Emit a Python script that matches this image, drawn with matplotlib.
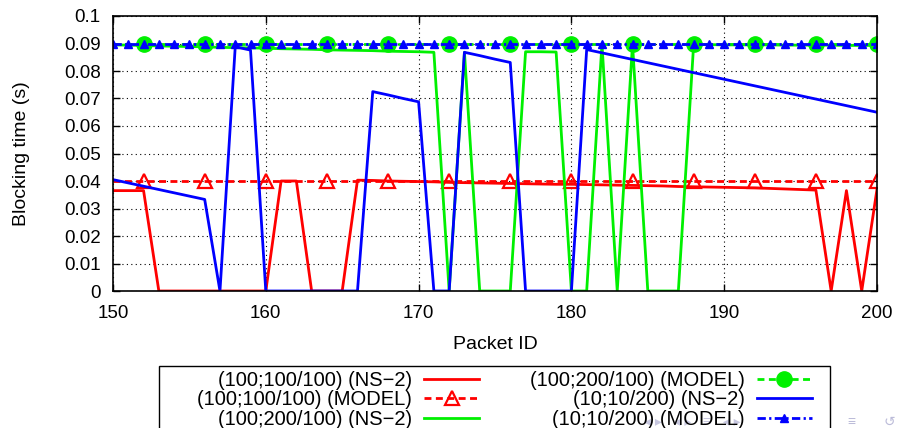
import numpy as np
from matplotlib import pyplot as plt
from matplotlib.patches import Rectangle

plt.rcParams['font.family'] = ['Liberation Sans', 'DejaVu Sans']

# packet ids 150..200
packets = list(range(150, 201))

# (100;100/100) NS-2
red_ns = [0.0365, 0.0365, 0.0365, 0, 0, 0, 0, 0, 0, 0,
          0, 0.0400, 0.0400, 0, 0, 0, 0.0403, 0.0402, 0.0400, 0.0399,
          0.0398, 0.0397, 0.0395, 0.0394, 0.0393, 0.0392, 0.0391, 0.0390, 0.0389, 0.0388,
          0.0388, 0.0387, 0.0386, 0.0385, 0.0384, 0.0383, 0.0382, 0.0380, 0.0379, 0.0378,
          0.0377, 0.0376, 0.0375, 0.0373, 0.0371, 0.0369, 0.0367, 0, 0.0365, 0,
          0.0370]
red_model = [0.04] * 51

# (100;200/100) NS-2
green_ns = [0.0895, 0.0894, 0.0893, 0.0891, 0.0890, 0.0889, 0.0888, 0.0886, 0.0885, 0.0884,
            0.0883, 0.0881, 0.0880, 0.0879, 0.0877, 0.0876, 0.0875, 0.0874, 0.0872, 0.0871,
            0.0870, 0.0868, 0, 0.0868, 0, 0, 0, 0.0870, 0.0870, 0.0869,
            0, 0, 0.0898, 0, 0.0897, 0, 0, 0, 0.0896, 0.0896,
            0.0895, 0.0895, 0.0895, 0.0895, 0.0894, 0.0894, 0.0894, 0.0894, 0.0893, 0.0893,
            0.0893]
green_model = [0.09] * 51

# (10;10/200) NS-2
blue_ns = [0.0405, 0.0393, 0.0381, 0.0369, 0.0357, 0.0345, 0.0333, 0, 0.0888, 0.0876,
           0, 0, 0, 0, 0, 0, 0, 0.0725, 0.0713, 0.0700,
           0.0688, 0, 0, 0.0868, 0.0856, 0.0843, 0.0831, 0, 0, 0,
           0, 0.0878, 0.0866, 0.0854, 0.0842, 0.0830, 0.0818, 0.0806, 0.0794, 0.0782,
           0.0770, 0.0758, 0.0746, 0.0734, 0.0722, 0.0710, 0.0698, 0.0686, 0.0674, 0.0662,
           0.0650]
blue_model = [0.09] * 51

labels = ["(100;100/100) (NS\u22122)", "(100;100/100) (MODEL)", "(100;200/100) (NS\u22122)",
          "(100;200/100) (MODEL)", "(10;10/200) (NS\u22122)", "(10;10/200) (MODEL)"]

fig = plt.figure(figsize=(8.97, 4.28), dpi=100)
ax = fig.add_axes([113/897, 1-291/428, 764/897, 275/428])

lw = 2.0
ax.plot(packets, red_ns, c="#ff0000", lw=lw, label=labels[0])
ax.plot(packets, red_model, c="#ff0000", lw=lw, dashes=(2.5, 1.6), marker="^",
        ms=10, mfc="none", mew=1.6, markevery=(2, 4), label=labels[1])
ax.plot(packets, green_ns, c="#00f000", lw=lw, label=labels[2])
ax.plot(packets, green_model, c="#00f000", lw=lw, dashes=(2.5, 1.6), marker="o",
        ms=11, mec="#00f000", markevery=(2, 4), label=labels[3])
ax.plot(packets, blue_ns, c="#0000ff", lw=lw, label=labels[4])
ax.plot(packets, blue_model, c="#0000ff", lw=lw, dashes=(3, 1.2, 0.8, 1.2), marker="^",
        ms=6, markevery=1, label=labels[5])

ax.set_xlim(150, 200)
ax.set_ylim(0, 0.1)
ax.set_xticks(range(150, 201, 10))
ax.set_yticks(np.arange(0, 0.101, 0.01))
ax.set_yticklabels(["0"] + ["%.2f" % v for v in np.arange(0.01, 0.095, 0.01)] + ["0.1"])
ax.grid(True, color="black", linestyle=(0, (1, 3)), lw=0.8)
ax.tick_params(axis="both", which="major", direction="in", length=5, width=1,
               top=True, right=True, labelsize=13.5)
ax.tick_params(axis="x", pad=10)
ax.tick_params(axis="y", pad=9)
for s in ax.spines.values():
    s.set_linewidth(1.2)

ax.set_xlabel("Packet ID", fontsize=14, labelpad=10)
ax.set_ylabel("Blocking time (s)", fontsize=14, labelpad=24)

# legend box runs off the bottom of the slide
fig.patches.append(Rectangle((159/897, -0.1), 671/897, 0.1 + 1 - 366/428,
                             transform=fig.transFigure, fill=False, ec="black", lw=1.0))
h, l = ax.get_legend_handles_labels()
leg = fig.legend(h, l, ncol=2, loc="upper left", bbox_to_anchor=(197/897, 1-371/428),
                 markerfirst=False, fontsize=14.5, handlelength=2.75, columnspacing=2.5,
                 handletextpad=0.6, labelspacing=0.02, borderpad=0, borderaxespad=0,
                 numpoints=1, frameon=False)

# beamer navigation symbols
fig.text(0.718, 0.005, "\u25c2 \u25b8   \u25c2 \u25b8   \u2261   \u25c2 \u25b8", fontsize=10,
         color="#9090c0", alpha=0.5)
fig.text(0.945, 0.005, "\u2261", fontsize=10, color="#9090c0", alpha=0.6)
fig.text(0.985, 0.005, "\u21ba", fontsize=10, color="#9090c0", alpha=0.6)

plt.savefig("out.png", dpi=100)
